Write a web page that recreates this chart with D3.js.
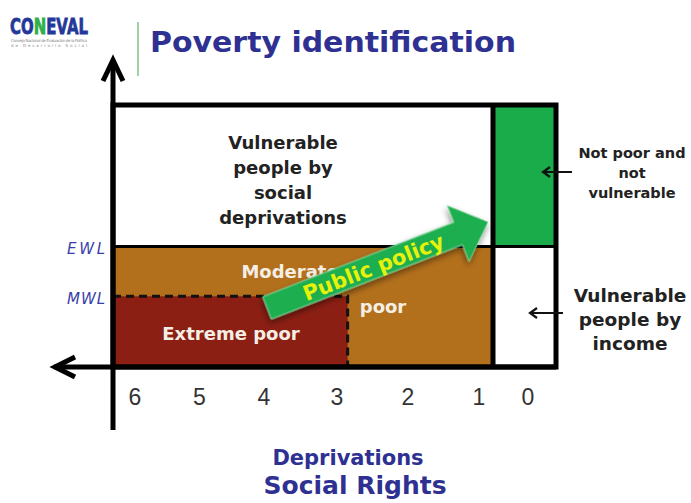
<!DOCTYPE html>
<meta charset="utf-8">
<script src="https://d3js.org/d3.v7.min.js"></script>
<style>
  body { margin: 0; background: #fff; }
  text { font-family: "DejaVu Sans", Verdana, sans-serif; }
</style>
<svg id="my_dataviz" width="691" height="503"></svg>
<script>

    // Deprivation ticks (x axis, decreasing to the right)
    var depTicks = [6, 5, 4, 3, 2, 1, 0];

    // Welfare thresholds (y axis)
    var lineLabels = ["EWL", "MWL"];
    var lineValues = [46, 27];

    // Regions: deprivation range and welfare range
    var regionNames = ["Vulnerable people by social deprivations", "Moderate poor", "Extreme poor",
        "Not poor and not vulnerable", "Vulnerable people by income"];
    var regionDep = [[6.35, 0.5], [6.35, 0.5], [6.35, 2.85], [0.5, -0.5], [0.5, -0.5]];
    var regionWelfare = [[46, 100], [0, 46], [0, 27], [46, 100], [0, 46]];
    var regionColors = ["#ffffff", "#b3701c", "#8c1f14", "#1aac4a", "#ffffff"];

    var svg = d3.select("svg");

    var x = d3.scaleLinear()
        .domain([6.35, 6, 4, 3, 1, 0.5, 0, -0.5])
        .range([113, 135, 264, 337, 479, 493, 528, 556]);

    var y = d3.scaleLinear()
        .domain([0, 100])
        .range([367, 105]);

    var blue = "#2e3192";

    // drop shadow for the policy arrow
    var defs = svg.append("defs");
    var f = defs.append("filter").attr("id", "shadow")
        .attr("x", "-20%").attr("y", "-40%").attr("width", "140%").attr("height", "180%");
    f.append("feDropShadow").attr("dx", -2).attr("dy", 3).attr("stdDeviation", 3)
        .attr("flood-color", "#000").attr("flood-opacity", 0.45);

    // Header - logo squeezed horizontally
    var logo = svg.append("g");
    var logoG = logo.append("g");
    var logoText = logoG.append("text")
        .attr("x", 0).attr("y", 0)
        .style("font-weight", "bold")
        .style("font-size", "21px")
        .style("fill", "#24389a")
        .style("stroke", "#24389a").style("stroke-width", 0.8)
        .html('CO<tspan fill="#2fb04a" stroke="#2fb04a">N</tspan>EVAL');
    var lw = logoText.node().getComputedTextLength();
    logoG.attr("transform", "translate(10,34) scale(" + (78 / lw) + ",1)");
    logo.append("text").attr("x", 11).attr("y", 42)
        .style("font-size", "4px").style("fill", "#888")
        .attr("textLength", 76)
        .text("Consejo Nacional de Evaluación de la Política");
    logo.append("text").attr("x", 11).attr("y", 47)
        .style("font-size", "4px").style("fill", "#888")
        .attr("textLength", 76)
        .text("de Desarrollo Social");
    svg.append("line")
        .attr("x1", 138).attr("x2", 138).attr("y1", 22).attr("y2", 76)
        .style("stroke", "#7cc48a").style("stroke-width", 1.5);

    svg.append("text")
        .attr("x", 150).attr("y", 52)
        .style("font-size", "29px")
        .style("font-weight", "bold")
        .style("fill", blue)
        .attr("textLength", 366)
        .attr("lengthAdjust", "spacingAndGlyphs")
        .text("Poverty identification");

    // Region fills
    svg.append("g")
        .selectAll("rect")
        .data(regionNames)
        .enter()
        .append("rect")
        .attr("x", function (d, i) { return x(regionDep[i][0]); })
        .attr("y", function (d, i) { return y(regionWelfare[i][1]); })
        .attr("width", function (d, i) { return x(regionDep[i][1]) - x(regionDep[i][0]); })
        .attr("height", function (d, i) { return y(regionWelfare[i][0]) - y(regionWelfare[i][1]); })
        .style("fill", function (d, i) { return regionColors[i]; });

    // Dashed MWL boundary of extreme poor
    svg.append("path")
        .attr("d", "M" + x(6.35) + "," + y(lineValues[1]) + "H" + x(2.85) + "V" + y(0))
        .style("fill", "none")
        .style("stroke", "#111")
        .style("stroke-width", 3)
        .style("stroke-dasharray", "8,5");

    // Box lines
    svg.append("rect")
        .attr("x", x(6.35)).attr("y", y(100))
        .attr("width", x(-0.5) - x(6.35))
        .attr("height", y(0) - y(100))
        .style("fill", "none").style("stroke", "#000").style("stroke-width", 5);
    svg.append("line")
        .attr("x1", x(0.5)).attr("x2", x(0.5)).attr("y1", y(100)).attr("y2", y(0))
        .style("stroke", "#000").style("stroke-width", 5);
    svg.append("line")
        .attr("x1", x(6.35)).attr("x2", x(-0.5)).attr("y1", y(lineValues[0])).attr("y2", y(lineValues[0]))
        .style("stroke", "#000").style("stroke-width", 3);

    // Axes arrows
    svg.append("line")
        .attr("x1", x(6.35)).attr("x2", x(6.35)).attr("y1", 60).attr("y2", 430)
        .style("stroke", "#000").style("stroke-width", 5);
    svg.append("path")
        .attr("d", "M" + (x(6.35) - 10) + ",81L" + x(6.35) + ",60L" + (x(6.35) + 10) + ",81")
        .style("fill", "none").style("stroke", "#000").style("stroke-width", 5);
    svg.append("line")
        .attr("x1", 54).attr("x2", x(-0.5)).attr("y1", y(0)).attr("y2", y(0))
        .style("stroke", "#000").style("stroke-width", 5);
    svg.append("path")
        .attr("d", "M75," + (y(0) - 10) + "L55," + y(0) + "L75," + (y(0) + 10))
        .style("fill", "none").style("stroke", "#000").style("stroke-width", 5);

    // Deprivation tick labels
    svg.append("g")
        .selectAll("text")
        .data(depTicks)
        .enter()
        .append("text")
        .attr("x", function (d) { return x(d); })
        .attr("y", 405)
        .attr("text-anchor", "middle")
        .style("font-family", "'Liberation Sans', Arial, sans-serif")
        .style("font-size", "23px")
        .style("fill", "#333")
        .text(function (d) { return d; });

    // Threshold labels
    svg.append("g")
        .selectAll("text")
        .data(lineValues)
        .enter()
        .append("text")
        .attr("x", 105)
        .attr("y", function (d) { return y(d) + 8; })
        .attr("text-anchor", "end")
        .style("font-size", "15px")
        .style("font-style", "italic")
        .style("fill", "#3a3ea8")
        .attr("textLength", 38)
        .text(function (d, i) { return lineLabels[i]; });

    // Region labels
    function label(lines, cx, cy, size, color, lh) {
        var t = svg.append("text")
            .attr("text-anchor", "middle")
            .style("font-size", size + "px")
            .style("font-weight", "bold")
            .style("fill", color);
        lines.forEach(function (l, i) {
            t.append("tspan").attr("x", cx).attr("y", cy + i * lh).text(l);
        });
        return t;
    }
    label(["Vulnerable", "people by", "social", "deprivations"], 283, 149, 18, "#222", 25);
    label(["Moderate"], 290, 278, 18, "#f4eee4", 0);
    label(["poor"], 383, 313, 18, "#f4eee4", 0);
    label(["Extreme poor"], 231, 340, 18, "#f4eee4", 0);
    label(["Not poor and", "not", "vulnerable"], 632, 158, 14.5, "#222", 20);
    label(["Vulnerable", "people by", "income"], 630, 302, 18.5, "#222", 24);

    // small pointer arrows
    function pointer(x1, x2, yy) {
        svg.append("line").attr("x1", x1).attr("x2", x2 + 2).attr("y1", yy).attr("y2", yy)
            .style("stroke", "#111").style("stroke-width", 2);
        svg.append("path")
            .attr("d", "M" + (x2 + 7) + "," + (yy - 5) + "L" + x2 + "," + yy + "L" + (x2 + 7) + "," + (yy + 5))
            .style("fill", "none").style("stroke", "#111").style("stroke-width", 2.2);
    }
    pointer(572, 543, 172);
    pointer(563, 530, 313);

    // Public policy arrow
    var ax0 = 267, ay0 = 308, ax1 = 488, ay1 = 222;
    var len = Math.hypot(ax1 - ax0, ay1 - ay0);
    var ang = Math.atan2(ay1 - ay0, ax1 - ax0) * 180 / Math.PI;
    var head = 32;
    var arrow = svg.append("g")
        .attr("transform", "translate(" + ax0 + "," + ay0 + ") rotate(" + ang + ")");
    arrow.append("path")
        .attr("d", "M0,-12H" + (len - head) + "V-30L" + len + ",0L" + (len - head) + ",30V12H0Z")
        .attr("filter", "url(#shadow)")
        .style("fill", "#1fae50")
        .style("stroke", "#7fd49a")
        .style("stroke-width", 1);
    arrow.append("text")
        .attr("x", 114)
        .attr("y", 8)
        .attr("text-anchor", "middle")
        .style("font-size", "21px")
        .style("font-weight", "bold")
        .style("fill", "#e6f20a")
        .text("Public policy");

    // Bottom titles
    svg.append("text")
        .attr("x", 348).attr("y", 465)
        .attr("text-anchor", "middle")
        .style("font-size", "21px").style("font-weight", "bold")
        .style("fill", blue)
        .text("Deprivations");
    svg.append("text")
        .attr("x", 355).attr("y", 494)
        .attr("text-anchor", "middle")
        .style("font-size", "25px").style("font-weight", "bold")
        .style("fill", blue)
        .text("Social Rights");

</script>
